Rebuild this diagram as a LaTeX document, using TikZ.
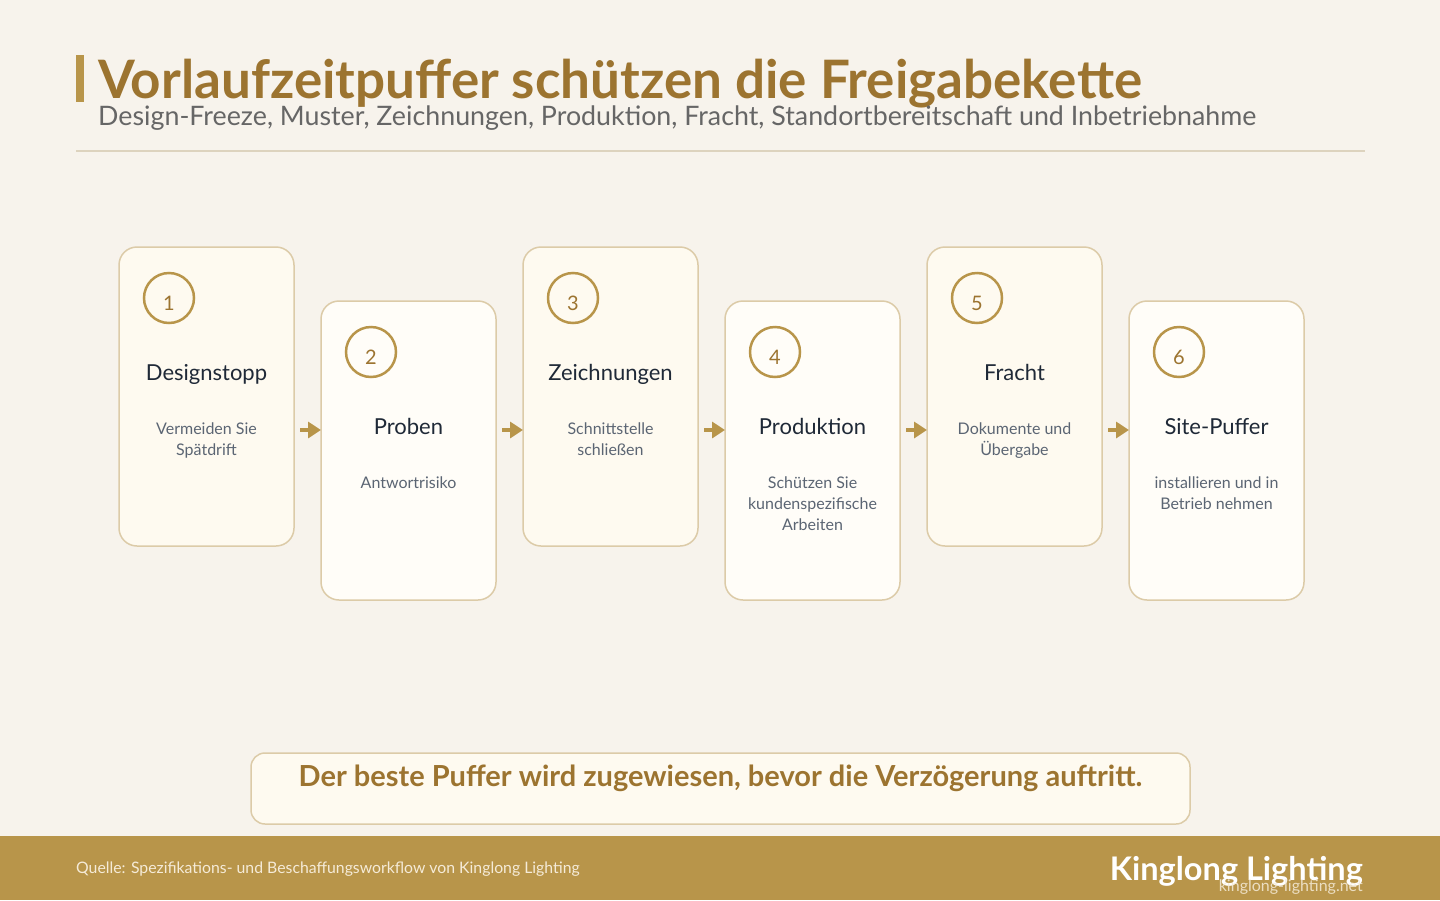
\documentclass[tikz,border=0pt]{standalone}
\usepackage{fontspec}
\setmainfont{Lato}
\usetikzlibrary{positioning, arrows.meta}
\definecolor{pagebg}{HTML}{F7F3EC}
\definecolor{cardodd}{HTML}{FEFAF0}
\definecolor{cardeven}{HTML}{FFFDF8}
\definecolor{cardline}{HTML}{DCCBA8}
\definecolor{gold}{HTML}{B8954A}
\definecolor{titlegold}{HTML}{9C7430}
\definecolor{darkink}{HTML}{1F2937}
\definecolor{descgray}{HTML}{5B6573}
\definecolor{subgray}{HTML}{666666}
\definecolor{rulecol}{HTML}{DDD3BE}
\definecolor{foottext}{HTML}{F5EBD8}
\tikzset{
    card/.style={
        rectangle, rounded corners=18pt, minimum width=175pt, minimum height=299pt,
        draw=cardline, line width=1.5pt, inner sep=0pt, outer sep=0pt
    },
    cardA/.style={card, fill=cardodd},
    cardB/.style={card, fill=cardeven},
    stepnum/.style={
        circle, draw=gold, line width=2.5pt, minimum size=50pt, inner sep=0pt
    },
    numlabel/.style={text=titlegold, font=\fontsize{20}{24}\selectfont, yshift=-5pt},
    steptitle/.style={anchor=base, text=darkink, font=\fontsize{22}{26}\selectfont},
    stepdesc/.style={anchor=north, inner sep=0pt, align=center, text=descgray, font=\fontsize{16}{21}\selectfont},
    flow/.style={draw=gold, line width=4pt, shorten <=6pt, -{Triangle[length=13pt,width=16pt]}},
    notebox/.style={
        rectangle, rounded corners=14pt, minimum width=939pt, minimum height=71pt,
        draw=cardline, line width=1.5pt, fill=cardodd
    },
}
\begin{document}
\begin{tikzpicture}[x=1pt, y=-1pt]

    % Page
    \useasboundingbox (0,0) rectangle (1440,900);
    \fill[pagebg] (0,0) rectangle (1440,900);

    % Heading
    \fill[gold] (76,55) rectangle (84,102);
    \node[anchor=base west, inner sep=0pt, text=titlegold, font=\fontsize{53}{60}\selectfont\bfseries] (title) at (98,98) {Vorlaufzeitpuffer schützen die Freigabekette};
    \node[anchor=base west, inner sep=0pt, text=subgray, font=\fontsize{26.8}{32}\selectfont] (subtitle) at (98,125) {Design-Freeze, Muster, Zeichnungen, Produktion, Fracht, Standortbereitschaft und Inbetriebnahme};
    \draw[rulecol, line width=2pt] (76,151) -- (1365,151);

    % Cards
    \node[cardA] (card1) at (206.5,396.5) {};
    \node[cardB, right=27pt of card1, yshift=-54pt] (card2) {};
    \node[cardA, right=27pt of card2, yshift=54pt] (card3) {};
    \node[cardB, right=27pt of card3, yshift=-54pt] (card4) {};
    \node[cardA, right=27pt of card4, yshift=54pt] (card5) {};
    \node[cardB, right=27pt of card5, yshift=-54pt] (card6) {};

    % Step numbers
    \node[stepnum, label={[numlabel]center:1}] (num1) at ([xshift=50pt, yshift=-51pt]card1.north west) {};
    \node[stepnum, label={[numlabel]center:2}] (num2) at ([xshift=50pt, yshift=-51pt]card2.north west) {};
    \node[stepnum, label={[numlabel]center:3}] (num3) at ([xshift=50pt, yshift=-51pt]card3.north west) {};
    \node[stepnum, label={[numlabel]center:4}] (num4) at ([xshift=50pt, yshift=-51pt]card4.north west) {};
    \node[stepnum, label={[numlabel]center:5}] (num5) at ([xshift=50pt, yshift=-51pt]card5.north west) {};
    \node[stepnum, label={[numlabel]center:6}] (num6) at ([xshift=50pt, yshift=-51pt]card6.north west) {};

    % Step titles
    \node[steptitle] (title1) at ([yshift=-133pt]card1.north) {Designstopp};
    \node[steptitle] (title2) at ([yshift=-133pt]card2.north) {Proben};
    \node[steptitle] (title3) at ([yshift=-133pt]card3.north) {Zeichnungen};
    \node[steptitle] (title4) at ([yshift=-133pt]card4.north) {Produktion};
    \node[steptitle] (title5) at ([yshift=-133pt]card5.north) {Fracht};
    \node[steptitle] (title6) at ([yshift=-133pt]card6.north) {Site-Puffer};

    % Step descriptions
    \node[stepdesc] (desc1) at ([yshift=-176pt]card1.north) {Vermeiden Sie\\Spätdrift};
    \node[stepdesc] (desc2) at ([yshift=-176pt]card2.north) {Antwortrisiko};
    \node[stepdesc] (desc3) at ([yshift=-176pt]card3.north) {Schnittstelle\\schließen};
    \node[stepdesc] (desc4) at ([yshift=-176pt]card4.north) {Schützen Sie\\kundenspezifische\\Arbeiten};
    \node[stepdesc] (desc5) at ([yshift=-176pt]card5.north) {Dokumente und\\Übergabe};
    \node[stepdesc] (desc6) at ([yshift=-176pt]card6.north) {installieren und in\\Betrieb nehmen};

    % Flow arrows
    \coordinate (flowrow) at (0,430);
    \draw[flow] (card1.east |- flowrow) -- (card2.west |- flowrow);
    \draw[flow] (card2.east |- flowrow) -- (card3.west |- flowrow);
    \draw[flow] (card3.east |- flowrow) -- (card4.west |- flowrow);
    \draw[flow] (card4.east |- flowrow) -- (card5.west |- flowrow);
    \draw[flow] (card5.east |- flowrow) -- (card6.west |- flowrow);

    % Key message
    \node[notebox] (note) at (720.5,788.5) {};
    \node[text=titlegold, font=\fontsize{29}{34}\selectfont\bfseries] (notetext) at ([yshift=10pt]note.center) {Der beste Puffer wird zugewiesen, bevor die Verzögerung auftritt.};

    % Footer
    \fill[gold] (0,836) rectangle (1440,900);
    \node[anchor=base west, inner sep=0pt, text=foottext, font=\fontsize{15.8}{19}\selectfont] (source) at (76,873) {Quelle: Spezifikations- und Beschaffungsworkflow von Kinglong Lighting};
    \node[anchor=base east, inner sep=0pt, text=white, font=\fontsize{32.5}{38}\selectfont\bfseries] (brand) at (1363,880) {Kinglong Lighting};
    \node[anchor=base east, inner sep=0pt, text=foottext, opacity=0.85, font=\fontsize{16}{19}\selectfont] (url) at (1363,891) {kinglong-lighting.net};

\end{tikzpicture}
\end{document}
